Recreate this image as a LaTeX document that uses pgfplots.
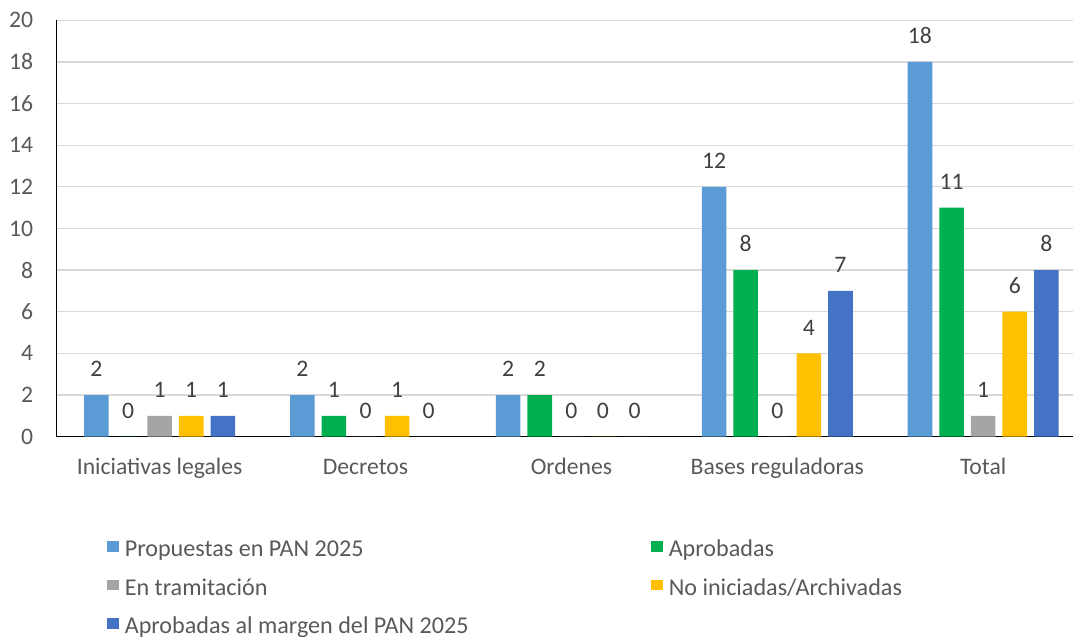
\documentclass[border=0pt]{standalone}
\usepackage{fontspec}
\setmainfont{Carlito}
\usepackage{pgfplots}
\pgfplotsset{compat=1.18}
\definecolor{cProp}{HTML}{5B9BD5}
\definecolor{cAprob}{HTML}{00B050}
\definecolor{cTram}{HTML}{A5A5A5}
\definecolor{cNoIni}{HTML}{FFC000}
\definecolor{cMarg}{HTML}{4472C4}
\definecolor{txtgray}{HTML}{595959}
\definecolor{lblgray}{HTML}{404040}
\definecolor{gridgray}{HTML}{D9D9D9}
\newcommand{\chartfont}{\fontsize{17.75pt}{21pt}\selectfont}
\newcommand{\legfont}{\fontsize{18.1pt}{21pt}\selectfont}

\begin{document}
\begin{tikzpicture}
\path[use as bounding box] (0pt,0pt) rectangle (804.75pt,477pt);
\begin{axis}[
    at={(42.5pt,149.5pt)}, anchor=south west,
    scale only axis,
    width=762.2pt, height=312.3pt,
    xmin=-0.5, xmax=4.436,
    ymin=0, ymax=20,
    ytick={0,2,...,20},
    xtick={0,1,2,3,4},
    xticklabels={Iniciativas legales, Decretos, Ordenes, Bases reguladoras, Total},
    axis x line*=bottom, axis y line*=left,
    axis line style={black, line width=1pt, -},
    major tick length=0pt,
    ymajorgrids,
    grid style={gridgray, line width=1pt},
    /pgf/number format/assume math mode=true,
    tick label style={font=\chartfont, text=txtgray, inner sep=0pt},
    yticklabel style={anchor=east, xshift=-17.5pt},
    xticklabel style={anchor=base, yshift=-28.7pt},
    ybar=5.25pt, bar width=18.45pt,
    nodes near coords,
    every node near coord/.append style={font=\chartfont, text=lblgray, inner sep=0pt, anchor=south, yshift=13.5pt},
    legend columns=2,
    legend cell align=left,
    legend image code/.code={\fill[#1] (0pt,-0.4pt) rectangle (9pt,7.6pt);},
    legend style={at={(0.0492,-0.2498)}, anchor=north west, draw=none, fill=none,
        inner sep=0pt, outer sep=0pt, font=\legfont, text=txtgray,
        nodes={inner sep=0pt, text height=12pt, text depth=4pt},
        row sep=12.75pt, column sep=0pt,
        /tikz/every odd column/.append style={column sep=4.6pt},
        /tikz/column 2/.append style={column sep=136.5pt}},
]
\addplot[fill=cProp, draw=none] coordinates {(0,2) (1,2) (2,2) (3,12) (4,18)};
\addlegendentry{Propuestas en PAN 2025}
\addplot[fill=cAprob, draw=none] coordinates {(0,0) (1,1) (2,2) (3,8) (4,11)};
\addlegendentry{Aprobadas}
\addplot[fill=cTram, draw=none] coordinates {(0,1) (1,0) (2,0) (3,0) (4,1)};
\addlegendentry{En tramitación}
\addplot[fill=cNoIni, draw=none] coordinates {(0,1) (1,1) (2,0) (3,4) (4,6)};
\addlegendentry{No iniciadas/Archivadas}
\addplot[fill=cMarg, draw=none] coordinates {(0,1) (1,0) (2,0) (3,7) (4,8)};
\addlegendentry{Aprobadas al margen del PAN 2025}
\end{axis}
\end{tikzpicture}
\end{document}
